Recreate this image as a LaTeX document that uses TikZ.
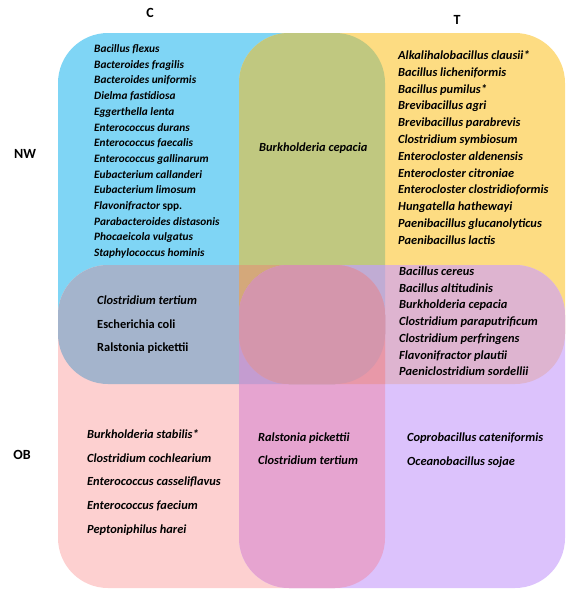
\documentclass[tikz,border=0pt]{standalone}
\usepackage{fontspec}
\setmainfont{Carlito}[BoldFont={Carlito Bold}, BoldItalicFont={Carlito Bold Italic}, ItalicFont={Carlito Italic}]
\definecolor{cB}{RGB}{127,213,245}
\definecolor{cY}{RGB}{253,220,130}
\definecolor{cP}{RGB}{253,208,208}
\definecolor{cL}{RGB}{220,194,252}
\definecolor{cBY}{RGB}{192,200,128}
\definecolor{cBP}{RGB}{164,180,204}
\definecolor{cYL}{RGB}{222,180,208}
\definecolor{cPL}{RGB}{230,164,208}
\definecolor{cBYP}{RGB}{212,168,122}
\definecolor{cBYL}{RGB}{192,172,212}
\definecolor{cBPL}{RGB}{196,156,208}
\definecolor{cYPL}{RGB}{232,152,168}
\definecolor{cAll}{RGB}{212,150,172}
\begin{document}
\begin{tikzpicture}[x=1pt,y=-1pt,
  rc/.style={rounded corners=50pt},
  sp/.style={font=\fontsize{12.4}{14}\selectfont\bfseries\itshape, anchor=west, inner sep=0pt, text height=8pt, text depth=3pt, text=black},
  spc/.style={sp, font=\fontsize{11.3}{13}\selectfont\bfseries\itshape},
  spu/.style={sp, font=\fontsize{12.4}{14}\selectfont\bfseries},
  lab/.style={font=\fontsize{14}{16}\selectfont\bfseries, inner sep=0pt}]
\useasboundingbox (0,0) rectangle (566,589);
% single sets
\fill[cB,rc] (58,33) rectangle (385,384);
\fill[cY,rc] (239,33) rectangle (565,384);
\fill[cP,rc] (58,265) rectangle (385,588);
\fill[cL,rc] (239,265) rectangle (565,588);
% pairs
\begin{scope}\clip[rc] (58,33) rectangle (385,384); \fill[cBY,rc] (239,33) rectangle (565,384);\end{scope}
\begin{scope}\clip[rc] (58,33) rectangle (385,384); \fill[cBP,rc] (58,265) rectangle (385,588);\end{scope}
\begin{scope}\clip[rc] (239,33) rectangle (565,384); \fill[cYL,rc] (239,265) rectangle (565,588);\end{scope}
\begin{scope}\clip[rc] (58,265) rectangle (385,588); \fill[cPL,rc] (239,265) rectangle (565,588);\end{scope}
% triples
\begin{scope}\clip[rc] (58,33) rectangle (385,384); \clip[rc] (239,33) rectangle (565,384); \fill[cBYP,rc] (58,265) rectangle (385,588);\end{scope}
\begin{scope}\clip[rc] (58,33) rectangle (385,384); \clip[rc] (239,33) rectangle (565,384); \fill[cBYL,rc] (239,265) rectangle (565,588);\end{scope}
\begin{scope}\clip[rc] (58,33) rectangle (385,384); \clip[rc] (58,265) rectangle (385,588); \fill[cBPL,rc] (239,265) rectangle (565,588);\end{scope}
\begin{scope}\clip[rc] (239,33) rectangle (565,384); \clip[rc] (58,265) rectangle (385,588); \fill[cYPL,rc] (239,265) rectangle (565,588);\end{scope}
% all four
\begin{scope}\clip[rc] (58,33) rectangle (385,384); \clip[rc] (239,33) rectangle (565,384); \clip[rc] (58,265) rectangle (385,588); \fill[cAll,rc] (239,265) rectangle (565,588);\end{scope}
% labels
\node[lab] (labC) at (150,13) {C};
\node[lab] (labT) at (457,20) {T};
\node[lab] (labNW) at (25,154) {NW};
\node[lab] (labOB) at (22,455) {OB};
% C-NW
\foreach \t [count=\i] in {Bacillus flexus, Bacteroides fragilis, Bacteroides uniformis, Dielma fastidiosa, Eggerthella lenta, Enterococcus durans, Enterococcus faecalis, Enterococcus gallinarum, Eubacterium callanderi, Eubacterium limosum, Flavonifractor {\upshape spp.}, Parabacteroides distasonis, Phocaeicola vulgatus, Staphylococcus hominis}
  \node[spc] (cnw\i) at (94,{50+(\i-1)*15.7}) {\t};
% middle NW
\node[sp] (mnw) at (259,149) {Burkholderia cepacia};
% T-NW
\foreach \t [count=\i] in {Alkalihalobacillus clausii*, Bacillus licheniformis, Bacillus pumilus*, Brevibacillus agri, Brevibacillus parabrevis, Clostridium symbiosum, Enterocloster aldenensis, Enterocloster citroniae, Enterocloster clostridioformis, Hungatella hathewayi, Paenibacillus glucanolyticus, Paenibacillus lactis}
  \node[sp] (tnw\i) at (398,{57+(\i-1)*16.8}) {\t};
% left band
\node[sp] (lb1) at (97,302) {Clostridium tertium};
\node[spu] (lb2) at (97,326) {Escherichia coli};
\node[spu] (lb3) at (97,349) {Ralstonia pickettii};
% right band
\foreach \t [count=\i] in {Bacillus cereus, Bacillus altitudinis, Burkholderia cepacia, Clostridium paraputrificum, Clostridium perfringens, Flavonifractor plautii, Paeniclostridium sordellii}
  \node[sp] (rb\i) at (399,{273+(\i-1)*16.7}) {\t};
% C-OB
\foreach \t [count=\i] in {Burkholderia stabilis*, Clostridium cochlearium, Enterococcus casseliflavus, Enterococcus faecium, Peptoniphilus harei}
  \node[sp] (cob\i) at (87,{436+(\i-1)*23.7}) {\t};
% middle OB
\node[sp] (mob1) at (258,439) {Ralstonia pickettii};
\node[sp] (mob2) at (258,462) {Clostridium tertium};
% T-OB
\node[sp] (tob1) at (407,439) {Coprobacillus cateniformis};
\node[sp] (tob2) at (407,463) {Oceanobacillus sojae};
\end{tikzpicture}
\end{document}
